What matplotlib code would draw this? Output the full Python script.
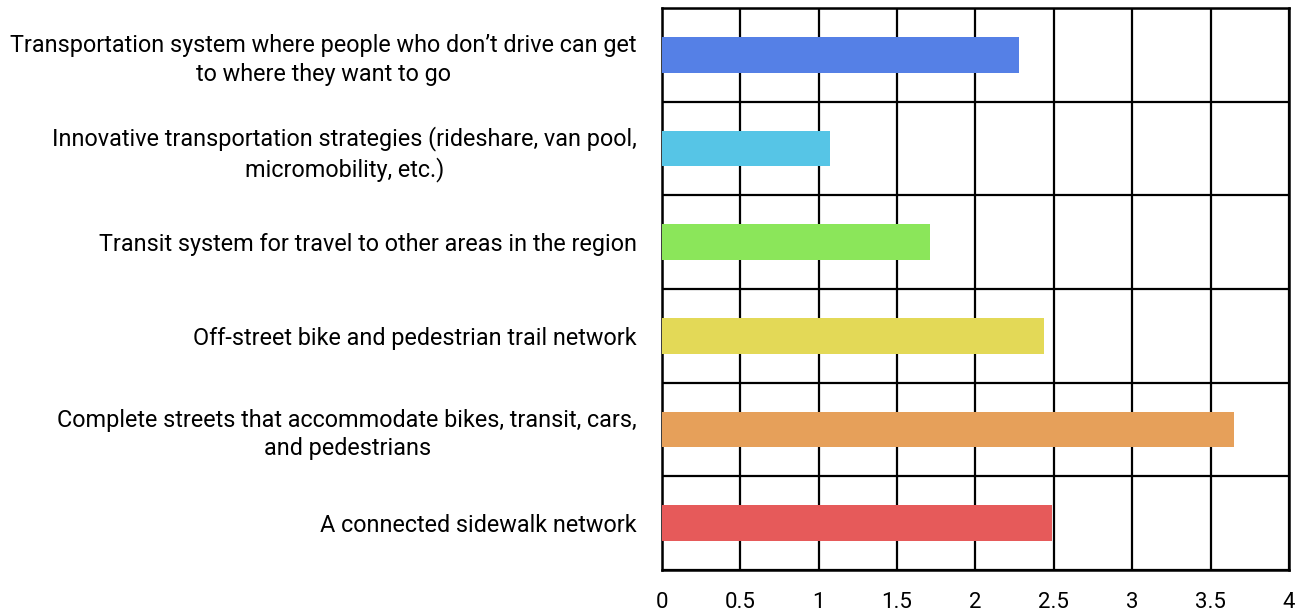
import matplotlib
matplotlib.use("Agg")
from matplotlib import pyplot as plt
import numpy as np

labels = [
	"Transportation system where people who don\u2019t drive can get\nto where they want to go",
	"Innovative transportation strategies (rideshare, van pool,\nmicromobility, etc.)",
	"Transit system for travel to other areas in the region",
	"Off-street bike and pedestrian trail network",
	"Complete streets that accommodate bikes, transit, cars,\nand pedestrians",
	"A connected sidewalk network",
]
values = [2.28, 1.07, 1.71, 2.44, 3.65, 2.49]
colors = ["#5580e6", "#56c5e6", "#8be65a", "#e3d957", "#e6a05a", "#e65a5a"]
xticks = [0, 0.5, 1, 1.5, 2, 2.5, 3, 3.5, 4]
xticklabels = ["0", "0.5", "1", "1.5", "2", "2.5", "3", "3.5", "4"]

plt.rcParams['font.family'] = ['Roboto', 'DejaVu Sans']

fig = plt.figure(figsize=(13.09, 6.15), dpi=100)
ax = fig.add_axes([0.5057, 0.0732, 0.4790, 0.9138])

y = np.arange(len(labels))
ax.barh(y, values, height=0.38, color=colors, zorder=3)

ax.set_xlim(0, 4)
ax.set_ylim(len(labels) - 0.5, -0.5)
ax.set_xticks(xticks)
ax.set_xticklabels(xticklabels, fontsize=16)
ax.set_yticks(y)
ax.set_yticklabels(labels, fontsize=16.8, ha='right', multialignment='center', linespacing=1.3)
ax.set_yticks(np.arange(len(labels) + 1) - 0.5, minor=True)
ax.tick_params(axis='y', which='both', length=0, pad=18)
ax.tick_params(axis='x', length=0, pad=16)

ax.grid(axis='x', which='major', color='black', lw=1.6, zorder=1)
ax.grid(axis='y', which='minor', color='black', lw=1.6, zorder=1)
ax.grid(axis='y', which='major', visible=False)
for s in ax.spines.values():
	s.set_color('black')
	s.set_linewidth(1.8)

fig.savefig("out.png", dpi=100)
